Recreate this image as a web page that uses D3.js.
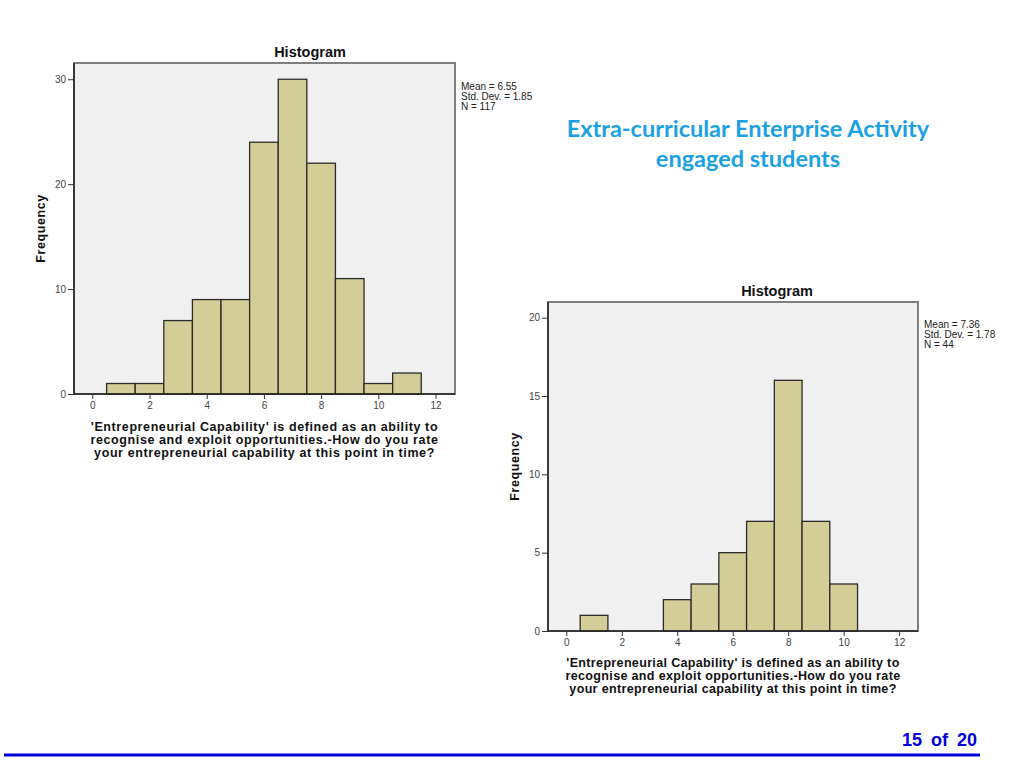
<!DOCTYPE html>
<html><head><meta charset="utf-8">
<script src="https://cdn.jsdelivr.net/npm/d3@7"></script>
<style>
html,body{margin:0;padding:0;background:#fff;}
svg{display:block;}
</style></head>
<body>
<svg id="c" width="1024" height="768"></svg>
<script>
// Data
const binCenters = [1,2,3,4,5,6,7,8,9,10,11];
const freqAll = [1,1,7,9,9,24,30,22,11,1,2];
const freqEngaged = [1,0,0,2,3,5,7,16,7,3,0];
const xTicks = [0,2,4,6,8,10,12];
const yTicksAll = [0,10,20,30];
const yTicksEngaged = [0,5,10,15,20];
const statsAll = ["Mean = 6.55","Std. Dev. = 1.85","N = 117"];
const statsEngaged = ["Mean = 7.36","Std. Dev. = 1.78","N = 44"];
const xTitleLines = ["'Entrepreneurial Capability' is defined as an ability to","recognise and exploit opportunities.-How do you rate","your entrepreneurial capability at this point in time?"];
const headline = ["Extra-curricular Enterprise Activity","engaged students"];

const svg = d3.select("#c");
const FONT = "Arial, 'Liberation Sans', sans-serif";

function histogram(cfg){
  const {left, top, right, bottom, xDom, yMax, data, yTicks, stats, titleX, titleY, statsX, statsY, freqX, xTitleY, ls} = cfg;
  const x = d3.scaleLinear().domain(xDom).range([left, right]);
  const y = d3.scaleLinear().domain([0, yMax]).range([bottom, top]);
  const g = svg.append("g");
  g.append("rect").attr("x", left).attr("y", top).attr("width", right-left).attr("height", bottom-top)
    .attr("fill", "#f0f0f0").attr("stroke", "#7f7f7f").attr("stroke-width", 2);
  g.selectAll("rect.bar").data(binCenters.map((c,i)=>({c, v:data[i]})).filter(d=>d.v>0))
    .enter().append("rect").attr("class","bar")
    .attr("x", d=>x(d.c-0.5)).attr("width", d=>x(d.c+0.5)-x(d.c-0.5))
    .attr("y", d=>y(d.v)).attr("height", d=>y(0)-y(d.v))
    .attr("fill", "#d3ce97").attr("stroke", "#2b2b2b").attr("stroke-width", 1.3);
  g.append("line").attr("x1", left).attr("x2", left).attr("y1", top).attr("y2", bottom).attr("stroke","#222").attr("stroke-width",1.5);
  g.append("line").attr("x1", left).attr("x2", right).attr("y1", bottom).attr("y2", bottom).attr("stroke","#222").attr("stroke-width",1.5);
  const yAxis = d3.axisLeft(y).tickValues(yTicks).tickSize(6).tickPadding(2).tickFormat(d3.format("d"));
  const ya = g.append("g").attr("transform", `translate(${left},0)`).call(yAxis);
  ya.select(".domain").remove();
  ya.selectAll("line").attr("stroke","#333");
  ya.selectAll("text").attr("font-family",FONT).attr("font-size",10).attr("fill","#444");
  const xAxis = d3.axisBottom(x).tickValues(xTicks).tickSize(5).tickPadding(3).tickFormat(d3.format("d"));
  const xa = g.append("g").attr("transform", `translate(0,${bottom})`).call(xAxis);
  xa.select(".domain").remove();
  xa.selectAll("line").attr("stroke","#333");
  xa.selectAll("text").attr("font-family",FONT).attr("font-size",10).attr("fill","#444");
  g.append("text").attr("x", titleX).attr("y", titleY).attr("text-anchor","middle")
    .attr("font-family",FONT).attr("font-size",14.5).attr("font-weight","bold").attr("fill","#111").text("Histogram");
  g.append("text").attr("transform", `translate(${freqX},${(top+bottom)/2}) rotate(-90)`).attr("text-anchor","middle")
    .attr("font-family",FONT).attr("font-size",12.5).attr("letter-spacing",0.6).attr("font-weight","bold").attr("fill","#111").text("Frequency");
  stats.forEach((s,i)=>{
    g.append("text").attr("x", statsX).attr("y", statsY + i*10).attr("font-family",FONT)
      .attr("font-size",10).attr("fill","#222").text(s);
  });
  xTitleLines.forEach((s,i)=>{
    g.append("text").attr("x", (left+right)/2).attr("y", xTitleY + i*13).attr("text-anchor","middle")
      .attr("font-family",FONT).attr("font-size",12.5).attr("letter-spacing",ls).attr("font-weight","bold").attr("fill","#111").text(s);
  });
}

histogram({left:74, top:63, right:455, bottom:394, xDom:[-0.64,12.68], yMax:31.55, data:freqAll, yTicks:yTicksAll,
  stats:statsAll, titleX:310, titleY:57, statsX:461, statsY:90, freqX:45, xTitleY:431, ls:0.6});
histogram({left:548, top:302, right:918, bottom:631, xDom:[-0.66,12.68], yMax:21, data:freqEngaged, yTicks:yTicksEngaged,
  stats:statsEngaged, titleX:777, titleY:296, statsX:924, statsY:328, freqX:519, xTitleY:667, ls:0.35});

headline.forEach((s,i)=>{
  svg.append("text").attr("x", 748).attr("y", 137 + i*30).attr("text-anchor","middle")
    .attr("font-family","Lato, 'Open Sans', sans-serif").attr("font-size",23.5).attr("font-weight","bold")
    .attr("fill","#1ba1e2").text(s);
});

svg.append("line").attr("x1",4).attr("x2",980).attr("y1",755).attr("y2",755).attr("stroke","#0000dd").attr("stroke-width",3);
svg.append("text").attr("x",977).attr("y",746).attr("text-anchor","end")
  .attr("font-family",FONT).attr("font-size",18).attr("font-weight","bold")
  .attr("fill","#0000dd").attr("word-spacing","4").text("15 of 20");
</script>
</body></html>
